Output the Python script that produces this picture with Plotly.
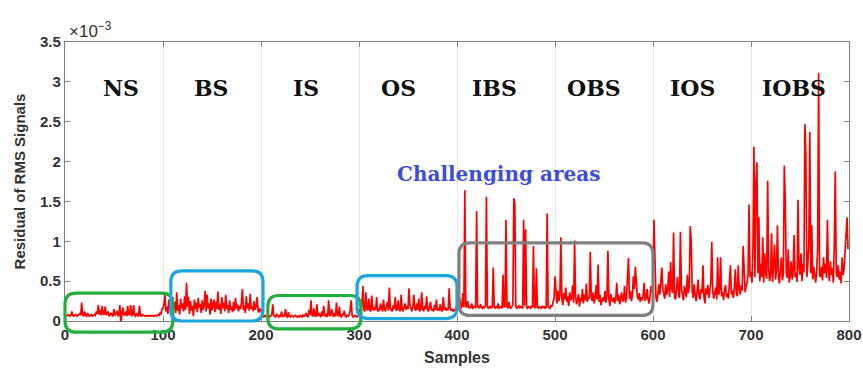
import plotly.graph_objects as go

# Residual of RMS signals (units of 1e-3), 100 samples per condition
ns = [0.07,0.06,0.07,0.08,0.07,0.06,0.07,0.12,0.07,0.06,
      0.07,0.08,0.06,0.07,0.08,0.09,0.07,0.23,0.08,0.06,
      0.12,0.07,0.06,0.10,0.07,0.06,0.07,0.08,0.06,0.07,
      0.08,0.07,0.12,0.09,0.20,0.08,0.14,0.07,0.19,0.09,
      0.08,0.18,0.07,0.10,0.12,0.06,0.08,0.10,0.07,0.06,
      0.15,0.07,0.09,0.13,0.06,0.08,0.20,-0.03,0.10,0.17,
      0.07,0.08,0.12,0.06,0.19,0.07,0.09,0.20,0.06,0.08,
      0.20,0.07,0.06,0.10,0.07,0.06,0.19,0.07,0.06,0.08,
      0.07,0.06,0.06,0.07,0.06,0.06,0.07,0.06,0.06,0.07,
      0.06,0.06,0.07,0.06,0.07,0.08,0.07,0.10,0.09,0.15]
bs = [0.16,0.21,0.33,0.12,0.18,0.09,0.27,0.14,0.22,0.11,
      0.30,0.15,0.24,0.10,0.36,0.13,0.20,0.08,0.28,0.16,
      0.22,0.12,0.31,0.14,0.48,0.18,0.30,0.09,0.25,0.13,
      0.19,0.06,0.27,0.15,0.23,0.11,0.29,0.17,0.21,0.10,
      0.26,0.14,0.20,0.38,0.12,0.33,0.16,0.22,0.08,0.28,
      0.13,0.19,0.27,0.11,0.24,0.15,0.37,0.14,0.21,0.09,
      0.30,0.16,0.23,0.12,0.33,0.15,0.20,0.10,0.26,0.14,
      0.18,0.11,0.24,0.13,0.29,0.16,0.21,0.12,0.19,0.15,
      0.23,0.40,0.14,0.20,0.10,0.31,0.16,0.22,0.13,0.34,
      0.15,0.19,0.12,0.25,0.14,0.18,0.30,0.13,0.11,0.15]
is_ = [0.14,0.08,0.06,0.05,0.07,0.06,0.05,0.06,0.07,0.05,
       0.06,0.08,0.21,0.07,0.06,0.05,0.09,0.06,0.05,0.07,
       0.06,0.12,0.05,0.07,0.06,0.15,0.06,0.05,0.11,0.06,
       0.05,0.07,0.06,0.05,0.06,0.07,0.06,0.05,0.06,0.05,
       0.07,0.06,0.05,0.08,0.06,0.07,0.10,0.06,0.05,0.14,
       0.08,0.26,0.07,0.06,0.16,0.07,0.05,0.21,0.06,0.10,
       0.07,0.05,0.12,0.06,0.19,0.07,0.06,0.09,0.05,0.26,
       0.08,0.06,0.15,0.07,0.05,0.10,0.06,0.23,0.07,0.06,
       0.18,0.06,0.05,0.09,0.07,0.13,0.06,0.05,0.07,0.06,
       0.08,0.14,0.26,0.07,0.05,0.06,0.07,0.06,0.05,0.06]
os_ = [0.13,0.15,0.12,0.20,0.44,0.14,0.12,0.36,0.15,0.13,
       0.28,0.14,0.12,0.32,0.15,0.13,0.18,0.14,0.30,0.12,
       0.14,0.13,0.22,0.15,0.12,0.27,0.14,0.13,0.18,0.24,
       0.13,0.42,0.16,0.14,0.12,0.20,0.15,0.30,0.13,0.14,
       0.26,0.15,0.12,0.33,0.14,0.13,0.17,0.22,0.14,0.19,
       0.15,0.41,0.20,0.14,0.12,0.18,0.33,0.15,0.13,0.22,
       0.14,0.28,0.12,0.15,0.36,0.14,0.13,0.19,0.15,0.31,
       0.14,0.12,0.17,0.24,0.13,0.15,0.12,0.20,0.14,0.27,
       0.13,0.15,0.14,0.21,0.13,0.12,0.30,0.14,0.18,0.13,
       0.15,0.14,0.41,0.16,0.13,0.15,0.12,0.14,0.13,0.16]
ibs = [0.20,0.18,0.17,0.28,0.16,0.18,0.35,0.17,1.64,0.19,
       0.17,0.25,0.16,0.18,0.17,0.22,0.16,0.17,0.19,0.16,
       1.38,0.17,0.18,0.16,0.21,0.17,0.16,0.18,0.17,0.19,
       1.56,0.18,0.16,0.17,0.19,0.16,0.18,0.67,0.17,0.16,
       0.18,0.17,0.22,0.16,0.17,0.18,0.16,0.58,0.17,0.19,
       1.27,0.18,0.16,0.24,0.17,0.16,0.18,0.21,1.54,1.47,
       0.18,0.16,0.17,0.20,0.16,0.18,0.17,0.16,1.27,0.19,
       1.15,0.17,0.16,0.18,0.17,0.16,0.19,0.17,0.94,0.18,
       0.16,0.66,0.17,0.16,0.18,0.17,0.16,0.19,0.17,0.18,
       0.16,0.17,1.35,0.18,0.17,0.16,0.20,0.18,0.24,0.28]
obs = [0.56,0.30,0.22,0.38,0.25,0.33,1.05,0.28,0.20,0.35,
       0.27,0.42,0.24,0.31,0.19,0.36,0.26,0.29,0.45,0.23,
       1.01,0.30,0.21,0.27,0.34,0.18,0.29,0.25,0.40,0.22,
       0.33,0.26,0.47,0.24,0.30,0.28,0.87,0.31,0.25,0.36,
       0.22,0.29,0.45,0.27,0.71,0.24,0.33,0.20,0.28,0.30,
       0.25,0.38,0.23,0.31,0.88,0.27,0.19,0.34,0.26,0.24,
       0.30,0.22,0.28,0.48,0.25,0.33,0.21,0.29,0.36,0.24,
       0.27,0.44,0.23,0.30,0.52,0.79,0.28,0.38,0.25,0.33,
       0.56,0.40,0.68,0.45,0.31,0.27,0.35,0.24,0.30,0.26,
       0.33,0.48,0.25,0.29,0.40,0.27,0.22,0.31,0.44,0.35]
ios = [0.42,1.27,0.55,0.30,0.24,0.38,0.46,0.33,0.52,0.67,
       0.40,0.35,0.28,0.46,0.33,0.38,0.62,0.30,0.74,0.41,
       0.35,1.11,0.30,0.27,0.43,0.55,0.36,0.29,1.12,0.40,
       0.33,0.26,0.44,0.38,0.30,0.58,0.35,0.42,1.19,1.00,
       0.37,0.29,0.46,0.33,0.25,0.38,0.52,0.31,0.27,0.40,
       0.35,0.70,0.30,0.22,0.41,0.33,0.45,0.29,0.36,0.48,
       0.99,0.37,0.28,0.34,0.42,0.27,0.80,0.33,0.38,0.80,
       0.31,0.36,0.26,0.40,0.45,0.30,0.35,0.28,0.44,0.70,
       0.33,0.38,0.29,0.42,0.65,0.35,0.31,0.70,0.40,0.33,
       0.45,0.38,0.94,0.52,0.36,0.44,0.48,0.60,1.46,0.55]
iobs = [0.62,0.48,0.90,2.19,0.55,1.74,1.99,0.60,1.30,0.50,
        0.72,0.55,1.05,0.48,0.85,0.60,0.53,1.76,0.66,0.50,
        0.58,1.10,0.49,0.70,0.96,0.52,0.64,1.20,0.55,0.47,
        0.62,0.80,0.51,0.58,1.95,1.50,0.60,0.54,0.90,0.48,
        0.57,0.75,0.52,0.63,1.08,0.55,0.60,0.49,1.52,0.66,
        0.58,0.85,0.50,0.72,0.61,2.47,2.10,0.55,0.70,0.95,
        2.37,0.60,1.20,0.52,0.68,0.57,0.48,0.62,0.90,3.11,
        0.58,0.55,0.68,0.51,0.80,0.60,0.72,0.54,1.27,0.62,
        0.50,0.75,0.58,0.66,0.48,0.95,1.88,0.60,0.55,0.70,
        0.52,0.62,0.47,0.80,0.58,0.65,0.90,1.05,1.30,0.90]

segment_labels = ["NS", "BS", "IS", "OS", "IBS", "OBS", "IOS", "IOBS"]
segment_label_x = [57, 149, 246, 340, 438, 540, 640, 744]
y_ticks = [0, 0.5, 1, 1.5, 2, 2.5, 3, 3.5]
x_ticks = [0, 100, 200, 300, 400, 500, 600, 700, 800]

residual = ns + bs + is_ + os_ + ibs + obs + ios + iobs
samples = list(range(len(residual)))

X_RANGE = [0, 800]
Y_RANGE = [0, 3.5]
W, H = 863, 376
ML, MR, MT, MB = 65, 14, 42, 55
PW, PH = W - ML - MR, H - MT - MB

# highlight boxes: (x0, x1, y0, y1, colour) in data units
boxes = [
    (0, 110, -0.14, 0.35, "#22b03c"),
    (108, 202, 0.0, 0.63, "#1ca6e0"),
    (207, 302, -0.10, 0.32, "#22b03c"),
    (298, 400, 0.03, 0.57, "#1ca6e0"),
    (402, 600, 0.07, 0.98, "#808080"),
]

def px(x):
    return (x - X_RANGE[0]) / (X_RANGE[1] - X_RANGE[0])

def py(y):
    return (y - Y_RANGE[0]) / (Y_RANGE[1] - Y_RANGE[0])

def rounded(x0, x1, y0, y1, r=11):
    a, b, c, d = px(x0), px(x1), py(y0), py(y1)
    rx, ry = r / PW, r / PH
    return (f"M{a+rx},{c} L{b-rx},{c} Q{b},{c} {b},{c+ry} "
            f"L{b},{d-ry} Q{b},{d} {b-rx},{d} L{a+rx},{d} "
            f"Q{a},{d} {a},{d-ry} L{a},{c+ry} Q{a},{c} {a+rx},{c} Z")

fig = go.Figure()
fig.add_trace(go.Scatter(x=samples, y=residual, mode="lines",
                         line=dict(color="#ff0000", width=1.7),
                         showlegend=False, hoverinfo="skip"))

shapes = []
for x0, x1, y0, y1, col in boxes:
    shapes.append(dict(type="path", xref="paper", yref="paper",
                       path=rounded(x0, x1, y0, y1),
                       line=dict(color=col, width=3.2), layer="above"))

annotations = []
for lab, lx in zip(segment_labels, segment_label_x):
    annotations.append(dict(x=lx, y=2.925, xref="x", yref="y", text=lab,
                            showarrow=False,
                            font=dict(family="DejaVu Serif", size=22,
                                      color="#111111", weight="bold")))
annotations.append(dict(x=442, y=1.84, xref="x", yref="y",
                        text="Challenging areas", showarrow=False,
                        font=dict(family="DejaVu Serif", size=20,
                                  color="#3d4ed8", weight="bold")))
annotations.append(dict(x=0.002, y=1.0, xref="paper", yref="paper",
                        xanchor="left", yanchor="bottom", yshift=-1,
                        text="×10<sup>−3</sup>", showarrow=False,
                        font=dict(family="Liberation Sans", size=17,
                                  color="#333333")))

axis_common = dict(showline=True, linecolor="#808080", linewidth=1.2,
                   mirror="ticks", ticks="inside", ticklen=5,
                   tickcolor="#808080", zeroline=False, automargin=False,
                   tickfont=dict(family="Liberation Sans", size=15,
                                 color="#333333", weight="bold"))

fig.update_layout(
    width=W, height=H,
    margin=dict(l=ML, r=MR, t=MT, b=MB, autoexpand=False),
    paper_bgcolor="white", plot_bgcolor="white",
    xaxis=dict(range=X_RANGE, tickvals=x_ticks, showgrid=True,
               gridcolor="#e6e6e6", gridwidth=1,
               title=dict(text="Samples", standoff=9,
                          font=dict(family="Liberation Sans", size=16,
                                    color="#333333", weight="bold")),
               **axis_common),
    yaxis=dict(range=Y_RANGE, tickvals=y_ticks,
               ticktext=[f"{v:g}" for v in y_ticks], showgrid=False,
               title=dict(text="Residual of RMS Signals", standoff=10,
                          font=dict(family="Liberation Sans", size=15,
                                    color="#333333", weight="bold")),
               **axis_common),
    shapes=shapes,
    annotations=annotations,
)

fig.write_html("out.html")
